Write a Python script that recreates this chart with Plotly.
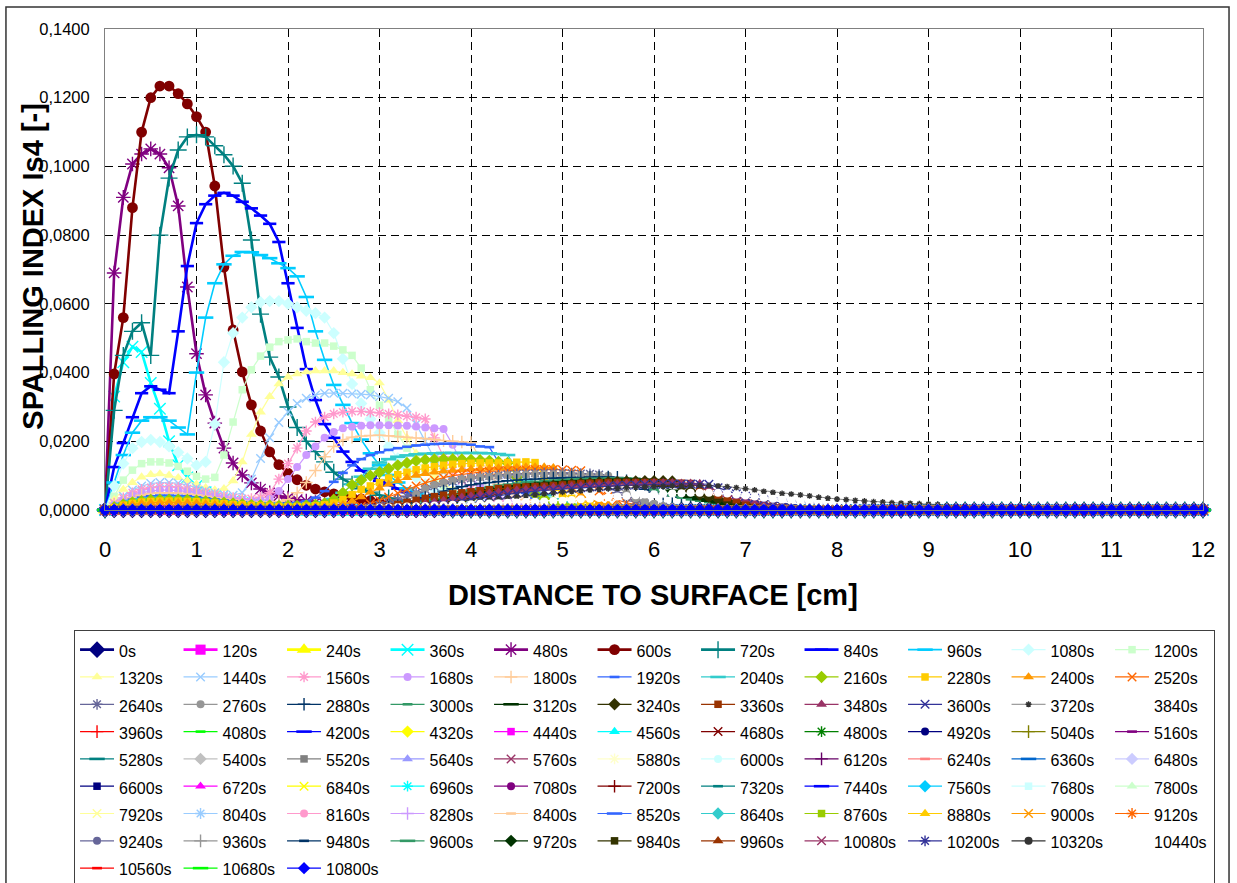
import plotly.graph_objects as go

# ---------------- data ----------------
TIME_LABELS = ["0s", "120s", "240s", "360s", "480s", "600s", "720s", "840s", "960s", "1080s", "1200s",
               "1320s", "1440s", "1560s", "1680s", "1800s", "1920s", "2040s", "2160s", "2280s", "2400s", "2520s",
               "2640s", "2760s", "2880s", "3000s", "3120s", "3240s", "3360s", "3480s", "3600s", "3720s", "3840s",
               "3960s", "4080s", "4200s", "4320s", "4440s", "4560s", "4680s", "4800s", "4920s", "5040s", "5160s",
               "5280s", "5400s", "5520s", "5640s", "5760s", "5880s", "6000s", "6120s", "6240s", "6360s", "6480s",
               "6600s", "6720s", "6840s", "6960s", "7080s", "7200s", "7320s", "7440s", "7560s", "7680s", "7800s",
               "7920s", "8040s", "8160s", "8280s", "8400s", "8520s", "8640s", "8760s", "8880s", "9000s", "9120s",
               "9240s", "9360s", "9480s", "9600s", "9720s", "9840s", "9960s", "10080s", "10200s", "10320s", "10440s",
               "10560s", "10680s", "10800s"]

# distance grid [cm], profiles sampled every 0.1 cm from 0 to 12 cm
DIST_CM = [round(0.1 * i, 1) for i in range(121)]

# Spalling index profiles, listed from x = 0 cm in 0.1 cm steps.
# After the last listed value the profile lies on the baseline (0).
is4_0000 = [0.0]
is4_0120 = [0.0]
is4_0240 = [0.0]
is4_0360 = [0, .0330, .0430, .0475, .0460, .0370, .0295, .0200, .0130, .0095, .0070, .0052, .0040, .0031,
            .0025, .0020, .0016, .0012, .0009, .0006, .0004]
is4_0480 = [0, .0690, .0910, .1007, .1036, .1051, .1036, .0996, .0885, .0649, .0455, .0335, .0253, .0180,
            .0137, .0102, .0079, .0061, .0050, .0041, .0035, .0030, .0026, .0022, .0018, .0015, .0012, .0010,
            .0008, .0006, .0004]
is4_0600 = [0, .0396, .0560, .0880, .1100, .1200, .1234, .1234, .1212, .1182, .1145, .1100, .0943, .0707,
            .0524, .0402, .0306, .0230, .0169, .0132, .0107, .0088, .0072, .0061, .0053, .0047, .0042, .0037,
            .0032, .0027, .0022, .0018, .0014, .0010, .0007, .0004]
is4_0720 = [0, .0290, .0450, .0520, .0545, .0450, .0800, .0966, .1048, .1086, .1092, .1086, .1060, .1034,
            .1001, .0951, .0786, .0570, .0445, .0387, .0300, .0240, .0200, .0170, .0140, .0110, .0090, .0075,
            .0062, .0052, .0043, .0035, .0028, .0022, .0016, .0011, .0007, .0004]
is4_0840 = [0, .0125, .0195, .0270, .0340, .0360, .0350, .0340, .0520, .0710, .0835, .0890, .0915, .0923,
            .0915, .0897, .0878, .0857, .0833, .0780, .0660, .0530, .0410, .0320, .0250, .0210, .0170, .0140,
            .0115, .0098, .0085, .0073, .0062, .0052, .0043, .0035, .0027, .0020, .0014, .0009, .0005]
is4_0960 = [0, .0080, .0160, .0225, .0260, .0270, .0270, .0260, .0240, .0220, .0400, .0560, .0660, .0715,
            .0740, .0751, .0750, .0742, .0733, .0718, .0704, .0680, .0620, .0520, .0437, .0364, .0306, .0253,
            .0205, .0165, .0130, .0102, .0080, .0063, .0050, .0040, .0031, .0024, .0018, .0013, .0009, .0005]
is4_1080 = [0, .0070, .0135, .0180, .0198, .0204, .0198, .0185, .0168, .0150, .0130, .0140, .0250, .0430,
            .0515, .0560, .0590, .0605, .0608, .0608, .0600, .0590, .0580, .0573, .0560, .0515, .0440, .0367,
            .0310, .0265, .0225, .0185, .0150, .0120, .0095, .0075, .0060, .0047, .0036, .0027, .0020, .0014,
            .0009, .0005]
is4_1200 = [0, .0040, .0087, .0116, .0135, .0140, .0140, .0137, .0127, .0113, .0098, .0090, .0095, .0160,
            .0256, .0350, .0408, .0448, .0474, .0490, .0495, .0498, .0490, .0486, .0486, .0477, .0466, .0450,
            .0413, .0350, .0305, .0265, .0220, .0180, .0145, .0115, .0090, .0070, .0055, .0042, .0032, .0024,
            .0017, .0011, .0006]
is4_1320 = [0, .0030, .0060, .0080, .0096, .0103, .0105, .0101, .0094, .0085, .0075, .0065, .0058, .0062,
            .0085, .0140, .0220, .0285, .0330, .0367, .0387, .0396, .0402, .0405, .0405, .0405, .0400, .0396,
            .0390, .0385, .0370, .0320, .0260, .0210, .0165, .0130, .0100, .0077, .0060, .0046, .0035, .0026,
            .0019, .0013, .0008, .0004]
is4_1440 = [0, .0020, .0040, .0058, .0070, .0077, .0080, .0080, .0078, .0072, .0065, .0057, .0050, .0045,
            .0043, .0050, .0090, .0150, .0210, .0255, .0285, .0310, .0325, .0335, .0340, .0340, .0340, .0338,
            .0337, .0335, .0330, .0325, .0315, .0297, .0250, .0200, .0150, .0110, .0082, .0062, .0047, .0036,
            .0027, .0020, .0014, .0009, .0005]
is4_1560 = [0, .0020, .0035, .0050, .0060, .0065, .0068, .0068, .0066, .0062, .0056, .0050, .0045, .0040,
            .0036, .0033, .0033, .0037, .0050, .0090, .0135, .0180, .0230, .0256, .0270, .0280, .0285, .0287,
            .0287, .0285, .0283, .0280, .0277, .0273, .0270, .0265, .0210, .0155, .0115, .0085, .0063, .0047,
            .0035, .0026, .0019, .0013, .0008, .0004]
is4_1680 = [0, .0015, .0030, .0042, .0050, .0055, .0058, .0058, .0057, .0054, .0050, .0045, .0040, .0036,
            .0032, .0030, .0028, .0028, .0032, .0055, .0090, .0125, .0160, .0185, .0210, .0227, .0238, .0242,
            .0245, .0247, .0247, .0247, .0246, .0245, .0243, .0240, .0238, .0236, .0190, .0135, .0095, .0068,
            .0050, .0037, .0027, .0020, .0014, .0009, .0005]
is4_1800 = [0, .0012, .0025, .0035, .0043, .0048, .0050, .0050, .0049, .0047, .0044, .0040, .0036, .0032,
            .0029, .0026, .0024, .0023, .0023, .0025, .0030, .0050, .0080, .0115, .0155, .0185, .0204, .0212,
            .0215, .0217, .0218, .0216, .0214, .0212, .0210, .0208, .0205, .0202, .0200, .0198, .0196, .0150,
            .0105, .0075, .0055, .0040, .0030, .0022, .0016, .0011, .0007, .0004]
is4_1920 = [0, .0010, .0020, .0030, .0036, .0040, .0042, .0042, .0041, .0040, .0037, .0034, .0031, .0028,
            .0025, .0022, .0020, .0019, .0018, .0018, .0019, .0021, .0026, .0036, .0055, .0082, .0108, .0130,
            .0148, .0160, .0168, .0175, .0180, .0184, .0188, .0190, .0192, .0193, .0193, .0192, .0190, .0185,
            .0183, .0140, .0098, .0070, .0050, .0036, .0026, .0019, .0013, .0008, .0004]
is4_2040 = [0, .0009, .0018, .0026, .0031, .0034, .0036, .0036, .0035, .0034, .0032, .0029, .0027, .0024,
            .0022, .0020, .0018, .0017, .0016, .0015, .0015, .0016, .0017, .0019, .0023, .0032, .0050, .0075,
            .0097, .0120, .0138, .0148, .0155, .0159, .0162, .0164, .0165, .0166, .0166, .0166, .0166, .0166,
            .0165, .0163, .0160, .0120, .0085, .0060, .0043, .0031, .0022, .0015, .0010, .0005]
is4_2160 = [0, .0008, .0016, .0022, .0026, .0029, .0030, .0030, .0030, .0029, .0027, .0025, .0023, .0021,
            .0019, .0017, .0015, .0014, .0013, .0012, .0012, .0012, .0013, .0015, .0019, .0030, .0050, .0073,
            .0087, .0100, .0110, .0120, .0130, .0137, .0143, .0146, .0147, .0148, .0148, .0147, .0146, .0145,
            .0143, .0140, .0137, .0095, .0065, .0046, .0033, .0024, .0017, .0012, .0008, .0004]
is4_2280 = [0, .0007, .0014, .0019, .0023, .0025, .0026, .0026, .0026, .0025, .0024, .0022, .0020, .0018,
            .0016, .0015, .0013, .0012, .0011, .0010, .0010, .0010, .0011, .0012, .0015, .0020, .0030, .0045,
            .0060, .0070, .0080, .0093, .0103, .0110, .0117, .0122, .0126, .0130, .0133, .0135, .0136, .0137,
            .0137, .0137, .0138, .0139, .0140, .0138, .0095, .0066, .0047, .0034, .0025, .0018, .0012, .0008,
            .0004]
is4_2400 = [0, .0006, .0012, .0016, .0019, .0021, .0022, .0022, .0022, .0021, .0020, .0018, .0016, .0015,
            .0013, .0012, .0011, .0010, .0009, .0008, .0008, .0008, .0008, .0009, .0010, .0012, .0015, .0025,
            .0038, .0052, .0064, .0075, .0085, .0094, .0101, .0106, .0110, .0113, .0115, .0117, .0119, .0120,
            .0121, .0122, .0123, .0124, .0125, .0125, .0125, .0123, .0085, .0060, .0043, .0031, .0022, .0016,
            .0011, .0007, .0004]
is4_2520 = [0, 0, 0, 0, 0, 0, 0, 0, 0, 0, 0, 0, 0, 0, 0, 0, 0, 0, 0, 0, 0, 0, 0, 0, 0, 0, 0, 0,
            .0010, .0018, .0028, .0038, .0049, .0060, .0070, .0079, .0087, .0094, .0100, .0104, .0107, .0110,
            .0112, .0114, .0115, .0116, .0117, .0118, .0118, .0118, .0117, .0116, .0114, .0078, .0055, .0040,
            .0029, .0021, .0015, .0010, .0006, .0003]
is4_2640 = [0, 0, 0, 0, 0, 0, 0, 0, 0, 0, 0, 0, 0, 0, 0, 0, 0, 0, 0, 0, 0, 0, 0, 0, 0, 0, 0, 0, 0,
            .0008, .0014, .0021, .0030, .0040, .0050, .0060, .0069, .0077, .0083, .0088, .0092, .0096, .0099,
            .0101, .0103, .0105, .0106, .0107, .0108, .0108, .0108, .0107, .0106, .0105, .0103, .0070, .0050,
            .0036, .0026, .0019, .0013, .0009, .0005]
is4_2760 = [0, 0, 0, 0, 0, 0, 0, 0, 0, 0, 0, 0, 0, 0, 0, 0, 0, 0, 0, 0, 0, 0, 0, 0, 0, 0, 0, 0, 0, 0,
            .0008, .0012, .0017, .0025, .0045, .0062, .0073, .0079, .0085, .0090, .0093, .0095, .0097, .0099,
            .0101, .0102, .0103, .0104, .0104, .0104, .0103, .0102, .0102, .0101, .0101, .0100, .0068, .0048,
            .0034, .0025, .0018, .0012, .0008, .0004]
is4_2880 = [0, 0, 0, 0, 0, 0, 0, 0, 0, 0, 0, 0, 0, 0, 0, 0, 0, 0, 0, 0, 0, 0, 0, 0, 0, 0, 0, 0, 0, 0, 0,
            .0008, .0012, .0018, .0026, .0036, .0046, .0055, .0062, .0068, .0073, .0077, .0080, .0083, .0085,
            .0087, .0089, .0090, .0092, .0093, .0094, .0095, .0095, .0096, .0096, .0096, .0095, .0085, .0072,
            .0060, .0052, .0046, .0041, .0037, .0034, .0031, .0028, .0025, .0020, .0015, .0010, .0006, .0003]
is4_3000 = [0, 0, 0, 0, 0, 0, 0, 0, 0, 0, 0, 0, 0, 0, 0, 0, 0, 0, 0, 0, 0, 0, 0, 0, 0, 0, 0, 0, 0, 0, 0, 0,
            .0006, .0010, .0015, .0022, .0030, .0038, .0045, .0052, .0058, .0063, .0067, .0071, .0074, .0077,
            .0080, .0082, .0084, .0086, .0087, .0089, .0090, .0091, .0091, .0092, .0092, .0092, .0091, .0075,
            .0060, .0050, .0042, .0036, .0031, .0027, .0023, .0020, .0016, .0012, .0008, .0004]
is4_3120 = [0, 0, 0, 0, 0, 0, 0, 0, 0, 0, 0, 0, 0, 0, 0, 0, 0, 0, 0, 0, 0, 0, 0, 0, 0, 0, 0, 0, 0, 0, 0, 0, 0,
            .0005, .0009, .0014, .0020, .0027, .0034, .0041, .0047, .0053, .0058, .0062, .0066, .0069, .0072,
            .0075, .0077, .0079, .0081, .0083, .0084, .0085, .0086, .0087, .0088, .0088, .0088, .0088, .0087,
            .0070, .0056, .0046, .0038, .0032, .0027, .0022, .0018, .0014, .0010, .0006, .0003]
is4_3240 = [0, 0, 0, 0, 0, 0, 0, 0, 0, 0, 0, 0, 0, 0, 0, 0, 0, 0, 0, 0, 0, 0, 0, 0, 0, 0, 0, 0, 0, 0, 0, 0, 0, 0,
            .0004, .0008, .0012, .0017, .0023, .0029, .0035, .0041, .0046, .0051, .0055, .0059, .0063, .0066,
            .0069, .0071, .0073, .0075, .0077, .0078, .0080, .0081, .0082, .0083, .0083, .0084, .0084, .0084,
            .0083, .0068, .0055, .0045, .0038, .0032, .0027, .0022, .0018, .0014, .0010, .0007, .0004]
is4_3360 = [0, 0, 0, 0, 0, 0, 0, 0, 0, 0, 0, 0, 0, 0, 0, 0, 0, 0, 0, 0, 0, 0, 0, 0, 0, 0, 0, 0, 0, 0,
            .0005, .0010, .0016, .0022, .0028, .0034, .0039, .0043, .0047, .0050, .0053, .0056, .0059, .0062,
            .0064, .0066, .0067, .0068, .0069, .0071, .0073, .0075, .0077, .0078, .0079, .0080, .0080, .0080,
            .0080, .0080, .0080, .0079, .0078, .0078, .0077, .0067, .0054, .0044, .0036, .0030, .0025, .0020,
            .0016, .0012, .0009, .0006, .0003]
is4_3480 = [0, 0, 0, 0, 0, 0, 0, 0, 0, 0, 0, 0, 0, 0, 0, 0, 0, 0, 0, 0, 0, 0, 0, 0, 0, 0, 0, 0, 0, 0, 0, 0,
            .0004, .0008, .0013, .0018, .0023, .0028, .0033, .0037, .0041, .0045, .0049, .0052, .0055, .0058,
            .0060, .0062, .0064, .0066, .0068, .0070, .0071, .0073, .0074, .0075, .0076, .0077, .0078, .0078,
            .0079, .0079, .0079, .0078, .0078, .0077, .0066, .0054, .0045, .0038, .0032, .0026, .0021, .0017,
            .0013, .0010, .0007, .0004]
is4_3600 = [0, 0, 0, 0, 0, 0, 0, 0, 0, 0, 0, 0, 0, 0, 0, 0, 0, 0, 0, 0, 0, 0, 0, 0, 0, 0, 0, 0, 0, 0, 0, 0, 0, 0,
            .0004, .0008, .0012, .0017, .0022, .0027, .0031, .0035, .0039, .0043, .0046, .0049, .0052, .0055,
            .0057, .0059, .0061, .0063, .0065, .0067, .0068, .0070, .0071, .0072, .0073, .0074, .0075, .0075,
            .0076, .0076, .0076, .0075, .0075, .0065, .0055, .0047, .0040, .0034, .0029, .0024, .0020, .0016,
            .0013, .0010, .0007, .0004]
is4_3720 = [0, 0, 0, 0, 0, 0, 0, 0, 0, 0, 0, 0, 0, 0, 0, 0, 0, 0, 0, 0, 0, 0, 0, 0, 0, 0, 0, 0, 0, 0, 0, 0, 0, 0,
            0, 0, .0004, .0008, .0012, .0016, .0020, .0024, .0028, .0032, .0035, .0038, .0041, .0044, .0047,
            .0049, .0052, .0054, .0056, .0058, .0060, .0062, .0063, .0065, .0066, .0067, .0068, .0069, .0070,
            .0070, .0071, .0071, .0071, .0070, .0068, .0065, .0062, .0058, .0054, .0051, .0048, .0046, .0044,
            .0041, .0037, .0034, .0032, .0030, .0028, .0026, .0024, .0023, .0021, .0020, .0019, .0018, .0017,
            .0016, .0012, .0008, .0005]
is4_3840 = [0, 0, 0, 0, 0, 0, 0, 0, 0, 0, 0, 0, 0, 0, 0, 0, 0, 0, 0, 0, 0, 0, 0, 0, 0, 0, 0, 0,
            .0003, .0005, .0007, .0008, .0009, .0010, .0011, .0012, .0013, .0014, .0015, .0016, .0017, .0018,
            .0019, .0020, .0021, .0022, .0023, .0024, .0025, .0026, .0027, .0029, .0031, .0033, .0035, .0037,
            .0039, .0041, .0043, .0045, .0046, .0047, .0048, .0049, .0050, .0050, .0050, .0050, .0048, .0045,
            .0042, .0039, .0036, .0033, .0030, .0027, .0024, .0021, .0018, .0015, .0012, .0010, .0008, .0006,
            .0004, .0003]
is4_3960 = [0.0]
is4_4080 = [0.0]
is4_4200 = [0.0]
is4_4320 = [0.0]
is4_4440 = [0.0]
is4_4560 = [0.0]
is4_4680 = [0.0]
is4_4800 = [0.0]
is4_4920 = [0.0]
is4_5040 = [0.0]
is4_5160 = [0.0]
is4_5280 = [0.0]
is4_5400 = [0.0]
is4_5520 = [0.0]
is4_5640 = [0.0]
is4_5760 = [0.0]
is4_5880 = [0.0]
is4_6000 = [0.0]
is4_6120 = [0.0]
is4_6240 = [0.0]
is4_6360 = [0.0]
is4_6480 = [0.0]
is4_6600 = [0.0]
is4_6720 = [0.0]
is4_6840 = [0.0]
is4_6960 = [0.0]
is4_7080 = [0.0]
is4_7200 = [0.0]
is4_7320 = [0.0]
is4_7440 = [0.0]
is4_7560 = [0.0]
is4_7680 = [0.0]
is4_7800 = [0.0]
is4_7920 = [0.0]
is4_8040 = [0.0]
is4_8160 = [0.0]
is4_8280 = [0.0]
is4_8400 = [0.0]
is4_8520 = [0.0]
is4_8640 = [0.0]
is4_8760 = [0.0]
is4_8880 = [0.0]
is4_9000 = [0.0]
is4_9120 = [0.0]
is4_9240 = [0.0]
is4_9360 = [0.0]
is4_9480 = [0.0]
is4_9600 = [0.0]
is4_9720 = [0.0]
is4_9840 = [0.0]
is4_9960 = [0.0]
is4_10080 = [0.0]
is4_10200 = [0.0]
is4_10320 = [0.0]
is4_10440 = [0.0]
is4_10560 = [0.0]
is4_10680 = [0.0]
is4_10800 = [0.0]

SERIES = [is4_0000, is4_0120, is4_0240, is4_0360, is4_0480, is4_0600, is4_0720, is4_0840, is4_0960,
          is4_1080, is4_1200, is4_1320, is4_1440, is4_1560, is4_1680, is4_1800, is4_1920, is4_2040,
          is4_2160, is4_2280, is4_2400, is4_2520, is4_2640, is4_2760, is4_2880, is4_3000, is4_3120,
          is4_3240, is4_3360, is4_3480, is4_3600, is4_3720, is4_3840, is4_3960, is4_4080, is4_4200,
          is4_4320, is4_4440, is4_4560, is4_4680, is4_4800, is4_4920, is4_5040, is4_5160, is4_5280,
          is4_5400, is4_5520, is4_5640, is4_5760, is4_5880, is4_6000, is4_6120, is4_6240, is4_6360,
          is4_6480, is4_6600, is4_6720, is4_6840, is4_6960, is4_7080, is4_7200, is4_7320, is4_7440,
          is4_7560, is4_7680, is4_7800, is4_7920, is4_8040, is4_8160, is4_8280, is4_8400, is4_8520,
          is4_8640, is4_8760, is4_8880, is4_9000, is4_9120, is4_9240, is4_9360, is4_9480, is4_9600,
          is4_9720, is4_9840, is4_9960, is4_10080, is4_10200, is4_10320, is4_10440, is4_10560,
          is4_10680, is4_10800]

Y_TICK_VALUES = [0.0, 0.02, 0.04, 0.06, 0.08, 0.10, 0.12, 0.14]
Y_TICK_TEXT = ["0,0000", "0,0200", "0,0400", "0,0600", "0,0800", "0,1000", "0,1200", "0,1400"]
X_TICK_VALUES = [0, 1, 2, 3, 4, 5, 6, 7, 8, 9, 10, 11, 12]

# ---------------- styles ----------------
EXCEL_PALETTE = ["#000000", "#FFFFFF", "#FF0000", "#00FF00", "#0000FF", "#FFFF00", "#FF00FF", "#00FFFF",
                 "#800000", "#008000", "#000080", "#808000", "#800080", "#008080", "#C0C0C0", "#808080",
                 "#9999FF", "#993366", "#FFFFCC", "#CCFFFF", "#660066", "#FF8080", "#0066CC", "#CCCCFF",
                 "#000080", "#FF00FF", "#FFFF00", "#00FFFF", "#800080", "#800000", "#008080", "#0000FF",
                 "#00CCFF", "#CCFFFF", "#CCFFCC", "#FFFF99", "#99CCFF", "#FF99CC", "#CC99FF", "#FFCC99",
                 "#3366FF", "#33CCCC", "#99CC00", "#FFCC00", "#FF9900", "#FF6600", "#666699", "#969696",
                 "#003366", "#339966", "#003300", "#333300", "#993300", "#993366", "#333399", "#333333"]

MARKERS = [("diamond", 9.5, False), ("square", 7.5, False), ("triangle-up", 9.5, False),
           ("x-thin-open", 8.5, True), ("asterisk-open", 9, True), ("circle", 8, False),
           ("cross-thin-open", 9, True), ("line-ew-open", 7, True), ("line-ew-open", 11, True)]

FONT = "Arial, 'Liberation Sans', sans-serif"


def series_color(k):
    if k < 32:
        return EXCEL_PALETTE[24 + k]
    return EXCEL_PALETTE[1 + (k - 32) % 55]


fig = go.Figure()
n_pts = len(DIST_CM)
for k, (label, vals) in enumerate(zip(TIME_LABELS, SERIES)):
    y = list(vals) + [0.0] * (n_pts - len(vals))
    col = series_color(k)
    sym, size, is_open = MARKERS[k % 9]
    if k < 8:
        size = size * 1.35
        lw = 2.6
    elif k == 8:
        lw = 1.6
    else:
        lw = 1.2
    if label == "3720s":
        size, lw = 5, 0.6
    mline = dict(color=col, width=(2.6 if sym == "line-ew-open" else 1.4) if is_open else 0)
    fig.add_trace(go.Scatter(
        x=DIST_CM, y=y, name='<span style="font-size:16px">' + label + '</span>',
        mode="lines+markers",
        line=dict(color=col, width=lw),
        marker=dict(symbol=sym, size=size, color=col, line=mline),
        cliponaxis=False, hoverinfo="skip"))

fig.update_layout(
    width=1237, height=883,
    margin=dict(l=105, r=34, t=29, b=373, autoexpand=False),
    paper_bgcolor="white", plot_bgcolor="white",
    font=dict(family=FONT, color="black"),
    showlegend=True,
    legend=dict(orientation="h", x=-0.0282, xanchor="left", y=-0.2495, yanchor="top",
                bordercolor="#404040", borderwidth=1, bgcolor="white",
                font=dict(family=FONT, size=18.7, color="black"),
                entrywidth=54.5, entrywidthmode="pixels", itemwidth=34,
                traceorder="normal", tracegroupgap=0),
    xaxis=dict(range=[0, 12], tickvals=X_TICK_VALUES, showgrid=True, gridcolor="black",
               griddash="8px,5px", gridwidth=1, zeroline=False, showline=True,
               linecolor="#808080", linewidth=1, mirror=True, ticks="",
               tickfont=dict(family=FONT, size=22, color="black"), ticklabelstandoff=20),
    yaxis=dict(range=[0, 0.14], tickvals=Y_TICK_VALUES, ticktext=Y_TICK_TEXT, showgrid=True,
               gridcolor="black", griddash="8px,5px", gridwidth=1, zeroline=False, showline=True,
               linecolor="#808080", linewidth=1, mirror=True, ticks="",
               tickfont=dict(family=FONT, size=16.5, color="black"), ticklabelstandoff=11),
    hovermode=False,
)

fig.add_annotation(text="<b>DISTANCE TO SURFACE [cm]</b>", xref="paper", yref="paper",
                   x=0.499, y=-0.176, xanchor="center", yanchor="middle", showarrow=False,
                   font=dict(family=FONT, size=29, color="black"))
fig.add_annotation(text="<b>SPALLING INDEX Is4 [-]</b>", xref="paper", yref="paper",
                   x=-0.0655, y=0.506, xanchor="center", yanchor="middle", showarrow=False,
                   textangle=-90, font=dict(family=FONT, size=29, color="black"))

# outer chart frame
fig.add_shape(type="rect", xref="paper", yref="paper", x0=-0.0902, x1=1.0237, y0=-0.82, y1=1.0457,
              line=dict(color="#333333", width=1.5), layer="below")

fig.write_html("out.html", config={"displayModeBar": False},
               post_script="document.body.style.margin='0';")
